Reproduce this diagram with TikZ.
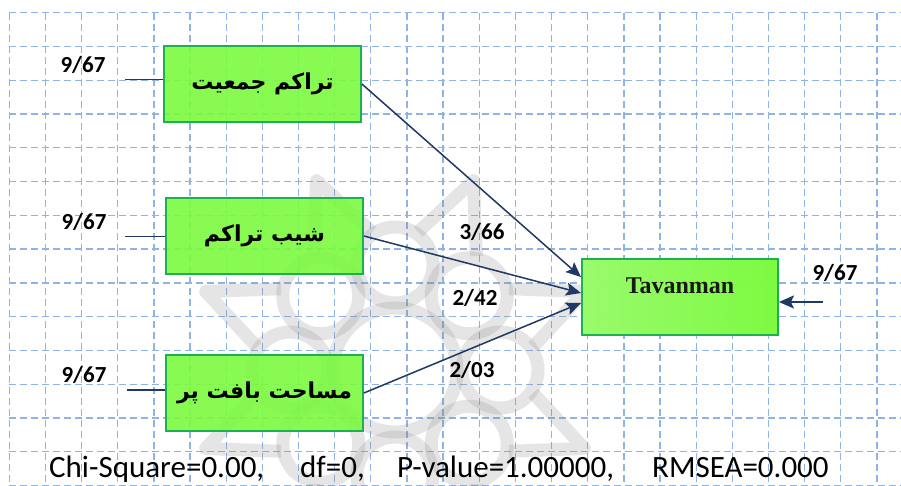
\documentclass[tikz,border=0pt]{standalone}
\usepackage{fontspec}
\setmainfont{Carlito}
\newfontfamily\arabicfont[Script=Arabic]{DejaVu Sans}
\newfontfamily\serifbold{Liberation Serif}
\TeXXeTstate=1
\usetikzlibrary{arrows.meta}
\definecolor{gridblue}{HTML}{8DB4E2}
\definecolor{boxgreen}{HTML}{7CFA40}
\definecolor{boxedge}{HTML}{1DB050}
\definecolor{navy}{HTML}{1F3864}
\definecolor{wmgray}{HTML}{8A8A8A}
\begin{document}
\begin{tikzpicture}[x=1pt,y=-1pt,
  gridline/.style={gridblue, line width=1.3pt, dash pattern=on 7pt off 4pt},
  varbox/.style={draw=boxedge, line width=1.8pt, fill=boxgreen, fill opacity=0.9, text opacity=1,
    minimum width=197pt, minimum height=76pt, inner sep=0pt,
    font=\arabicfont\bfseries\fontsize{22}{26}\selectfont},
  numlabel/.style={font=\bfseries\fontsize{23}{27}\selectfont, inner sep=0pt},
  fitline/.style={draw=navy, line width=1.5pt},
  path/.style={draw=navy, line width=1.5pt, -{Stealth[length=15pt,width=13pt,inset=3pt]}},
  stattext/.style={font=\fontsize{31}{36}\selectfont, anchor=base west, inner sep=0pt},
  wm/.style={draw=wmgray, line width=13pt, opacity=0.22, line join=round}
]
\useasboundingbox (0,0) rectangle (901,486);
\fill[white] (0,0) rectangle (901,486);
\clip (0,0) rectangle (901,486);
% grid
\foreach \i in {0,...,24} \draw[gridline] ({9.3+36.15*\i},12.7) -- ({9.3+36.15*\i},486);
\foreach \j in {0,...,14} \draw[gridline] (9.3,{12.7+33.77*\j}) -- (901,{12.7+33.77*\j});
% watermark
\begin{scope}[shift={(395,370)}]
  \foreach \a in {0,45,...,315} \draw[wm] (\a:105pt) circle[radius=38pt];
  \draw[wm] (0,0) circle[radius=62pt];
  \foreach \a in {22.5,67.5,...,337.5} \draw[wm] (\a-13:140pt) -- (\a:205pt) -- (\a+13:140pt);
\end{scope}
% boxes
\node[varbox] (b1) at (262.5,84) {\beginR تراکم جمعیت\endR};
\node[varbox] (b2) at (264.5,236) {\beginR شیب تراکم\endR};
\node[varbox] (b3) at (264.5,393) {\beginR مساحت بافت پر\endR};
\node[varbox, left color=boxgreen!75!white, right color=boxgreen, minimum width=196pt,
  label={[font=\serifbold\bfseries\fontsize{24}{28}\selectfont, text=black!90, yshift=11pt]center:Tavanman}] (b4) at (680,297) {};
% error terms
\coordinate (e1) at (125,79.3);
\coordinate (e2) at (125,236.7);
\coordinate (e3) at (127,390);
\coordinate (e4) at (823,302);
\draw[fitline] (e1) -- (e1 -| b1.west);
\draw[fitline] (e2) -- (e2 -| b2.west);
\draw[fitline] (e3) -- (e3 -| b3.west);
\draw[path] (e4) -- (e4 -| b4.east);
% paths
\coordinate (t1) at (581,277);
\coordinate (t2) at (581,293);
\coordinate (t3) at (581,303);
\draw[path] (b1.east) -- (t1);
\draw[path] (b2.east) -- (t2);
\draw[path] (b3.east) -- (t3);
% labels
\node[numlabel] (l1) at (83,65) {9/67};
\node[numlabel] (l2) at (84,222) {9/67};
\node[numlabel] (l3) at (84,375) {9/67};
\node[numlabel] (l4) at (835,273) {9/67};
\node[numlabel] (p1) at (482,232) {3/66};
\node[numlabel] (p2) at (475,298) {2/42};
\node[numlabel] (p3) at (472,370) {2/03};
% statistics
\node[stattext] (s1) at (49,477) {Chi-Square=0.00,};
\node[stattext] (s2) at (300,477) {df=0,};
\node[stattext] (s3) at (397,477) {P-value=1.00000,};
\node[stattext] (s4) at (652,477) {RMSEA=0.000};
\end{tikzpicture}
\end{document}
